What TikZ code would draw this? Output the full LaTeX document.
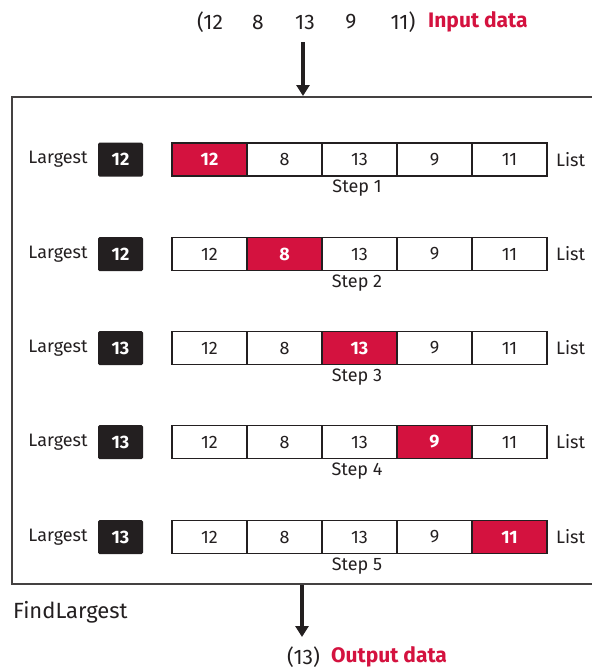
\documentclass[tikz,border=0pt]{standalone}
\usepackage{fontspec}
\setmainfont{Fira Sans}
\usetikzlibrary{arrows.meta}
\definecolor{hl}{HTML}{D4123F}
\definecolor{ink}{HTML}{231F20}
\begin{document}
\begin{tikzpicture}[x=1pt,y=-1pt,
  txt/.style={font=\fontsize{18}{20}\selectfont, text=ink, inner sep=0pt},
  itxt/.style={font=\fontsize{21}{23}\selectfont, text=ink, inner sep=0pt},
  cell/.style={draw=ink, line width=1.2pt, minimum width=75pt, minimum height=33pt, inner sep=0pt, font=\fontsize{18}{20}\selectfont, text=ink, anchor=center},
  hcell/.style={cell, fill=hl, text=white},
  big/.style={fill=ink, rounded corners=1.5pt, minimum width=45pt, minimum height=34pt, inner sep=0pt, text=white, font=\fontsize{18}{20}\selectfont\bfseries},
  arr/.style={line width=3.5pt, -{Triangle[length=11pt,width=13pt]}, ink}]
\useasboundingbox (0,0) rectangle (592,670);
% input
\node[itxt] (i1) at (210,22) {(12};
\node[itxt] (i2) at (258,22) {8};
\node[itxt] (i3) at (305,22) {13};
\node[itxt] (i4) at (351,22) {9};
\node[itxt] (i5) at (403,22) {11)};
\node[itxt, text=hl, anchor=west, font=\fontsize{21}{23}\selectfont\bfseries] (inlab) at (428,22) {Input data};
% frame
\coordinate (tl) at (12,97);
\coordinate (bl) at (12,584);
\draw[line width=1.5pt, draw=ink!85] (600,97) -- (tl) -- (bl) -- (600,584);
\coordinate (ain) at (303,42);
\coordinate (aine) at (303,96);
\draw[arr] (ain) -- (aine);
% rows
\foreach \r/\y/\big/\h in {1/159.5/12/1, 2/254/12/2, 3/348/13/3, 4/442/13/4, 5/537/13/5}{
  \node[txt, anchor=center] (lg\r) at (58,\y) {Largest};
  \node[big] (b\r) at (120.5,\y) {\big};
  \foreach \c/\v in {1/12,2/8,3/13,4/9,5/11}{
    \ifnum\c=\h
      \node[hcell] (c\r\c) at ({172+75*(\c-0.5)},\y) {\bfseries\v};
    \else
      \node[cell] (c\r\c) at ({172+75*(\c-0.5)},\y) {\v};
    \fi
  }
  \node[txt, anchor=west] (li\r) at (556,\y) {List};
  \node[txt] (st\r) at (357,\y+29) {Step \r};
}
% output
\coordinate (aout) at (302,585);
\coordinate (aoute) at (302,637);
\draw[arr] (aout) -- (aoute);
\node[txt, anchor=west, font=\fontsize{22}{24}\selectfont] (fl) at (13,612) {FindLargest};
\node[itxt, anchor=west] (o1) at (287,657) {(13)};
\node[itxt, anchor=west, text=hl, font=\fontsize{21}{23}\selectfont\bfseries] (o2) at (331,657) {Output data};
\end{tikzpicture}
\end{document}
